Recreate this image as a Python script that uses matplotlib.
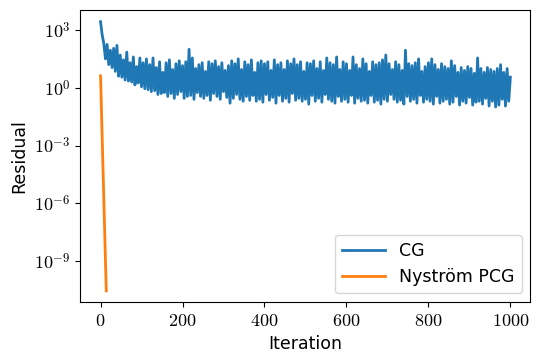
import numpy as np
import matplotlib
matplotlib.use("Agg")
import matplotlib.pyplot as plt
from matplotlib.ticker import FixedLocator, FuncFormatter, NullLocator

plt.rcParams['font.size'] = 12
plt.rcParams['mathtext.fontset'] = 'cm'

cg_iter_step = 4
cg_log_residual = [
    3.43, 2.75, 2.30, 1.50, 2.25, 1.20, 1.95, 1.05, 2.05, 0.85,
    2.20, 0.60, 1.70, 0.55, 1.45, 0.40, 1.85, 0.35, 1.30, 0.30,
    1.60, 0.15, 1.10, 0.25, 1.55, 0.05, 1.30, -0.05, 1.50, -0.10,
    1.20, -0.20, 1.55, -0.15, 1.05, -0.35, 1.35, -0.30, 0.80, -0.25,
    1.30, -0.45, 1.45, -0.30, 0.95, -0.55, 1.25, -0.35, 1.40, -0.20,
    1.15, -0.55, 1.35, -0.45, 2.00, -0.40, 1.55, -0.60, 1.00, -0.25,
    1.20, -0.45, 1.30, -0.55, 0.85, -0.40, 1.35, -0.65, 1.25, -0.30,
    1.40, -0.45, 1.10, -0.60, 1.30, -0.20, 0.90, -0.50, 1.15, -0.80,
    1.40, -0.55, 1.25, -0.35, 1.50, -0.60, 0.95, -0.70, 1.35, -0.45,
    1.20, -0.65, 1.45, -0.40, 0.80, -0.70, 1.30, -0.60, 1.40, -0.75,
    1.25, -0.35, 1.35, -0.65, 0.90, -0.50, 1.45, -0.80, 1.20, -0.40,
    1.30, -0.70, 0.95, -0.55, 1.40, -0.75, 1.25, -0.30, 1.50, -0.65,
    1.20, -0.55, 1.35, -0.70, 0.85, -0.60, 1.30, -0.85, 1.25, -0.40,
    1.40, -0.70, 1.00, -0.55, 1.35, -0.75, 0.90, -0.35, 1.55, -0.60,
    1.30, -0.70, 1.20, -0.80, 1.60, -0.45, 0.95, -0.70, 1.35, -0.60,
    1.25, -0.75, 0.90, -0.40, 1.60, -0.80, 1.20, -0.55, 1.00, -0.70,
    1.50, -0.65, 1.25, -0.80, 0.85, -0.40, 1.35, -0.75, 1.20, -0.65,
    1.30, -0.85, 1.45, -0.60, 1.70, -0.70, 1.25, -0.35, 0.95, -0.60,
    1.35, -0.75, 1.20, -0.65, 0.90, -0.85, 1.95, -0.45, 1.25, -0.70,
    1.15, -0.60, 1.30, -0.80, 1.50, -0.40, 0.85, -0.75, 1.10, -0.60,
    1.30, -0.70, 1.50, -0.85, 1.20, -0.45, 0.95, -0.80, 1.25, -0.70,
    1.10, -0.60, 1.00, -0.85, 1.40, -0.75, 1.15, -0.45, 0.80, -0.90,
    1.05, -0.70, 0.90, -0.80, 1.10, -0.50, 1.00, -0.90, 0.75, -0.75,
    1.55, -0.70, 1.00, -0.85, 0.80, -0.55, 1.05, -0.95, 0.95, -0.70,
    0.85, -1.00, 1.00, -0.90, 1.20, -0.60, 0.80, -0.95, 1.00, -0.70,
    0.55,
]

# Nystrom PCG residual (log10), one value per iteration
pcg_log_residual = [0.62, -0.15, -0.95, -1.80, -2.55, -3.40, -4.20, -4.95,
                    -5.80, -6.60, -7.35, -8.20, -9.00, -9.75, -10.55]

series_labels = ["CG", "Nyström PCG"]
x_ticks = [0, 200, 400, 600, 800, 1000]
y_tick_exponents = [3, 0, -3, -6, -9]

cg_x = np.arange(len(cg_log_residual)) * cg_iter_step
cg_y = 10.0 ** np.array(cg_log_residual)
pcg_x = np.arange(len(pcg_log_residual))
pcg_y = 10.0 ** np.array(pcg_log_residual)

fig = plt.figure(figsize=(5.41, 3.63), dpi=100)
ax = fig.add_axes([0.148, 0.168, 0.8325, 0.8045])
ax.plot(cg_x, cg_y, color='#1f77b4', lw=2.0, label=series_labels[0])
ax.plot(pcg_x, pcg_y, color='#ff7f0e', lw=2.0, label=series_labels[1])
ax.set_yscale('log')
ax.set_ylim(10 ** -11.13, 10 ** 4.04)
ax.set_xlim(-49.95, 1048.95)

ax.xaxis.set_major_locator(FixedLocator(x_ticks))
ax.xaxis.set_major_formatter(FuncFormatter(lambda v, p: f'${int(round(v))}$'))
ax.yaxis.set_major_locator(FixedLocator([10.0 ** e for e in y_tick_exponents]))
ax.yaxis.set_major_formatter(FuncFormatter(lambda v, p: f'$10^{{{int(round(np.log10(v)))}}}$'))
ax.yaxis.set_minor_locator(NullLocator())
ax.tick_params(labelsize=13)

ax.set_xlabel('Iteration', fontsize=12.5)
ax.set_ylabel('Residual', fontsize=12.5)
ax.legend(loc='lower right', fontsize=12.5, handlelength=2.5)

fig.savefig('out.png', dpi=100)
